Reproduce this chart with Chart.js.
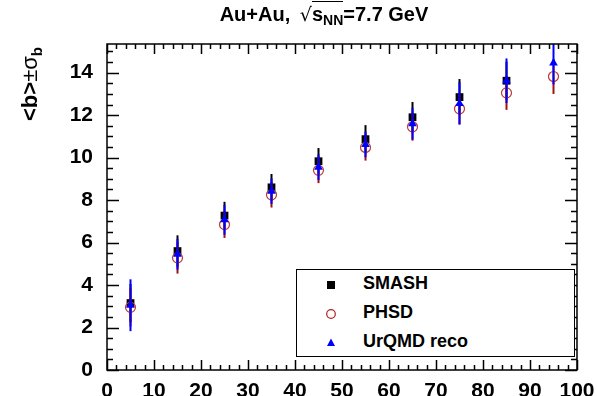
<!DOCTYPE html>
<html>
<head>
<meta charset="utf-8">
<script src="https://cdn.jsdelivr.net/npm/chart.js@4"></script>
<style>
  html, body { margin: 0; padding: 0; background: #fff; }
  #wrap { position: relative; width: 597px; height: 396px; font-family: "Liberation Sans", Arial, sans-serif; }
  #title { position: absolute; left: 0; width: 648px; top: 3px; text-align: center; font-weight: bold; font-size: 20px; color: #000; }
  #title .rad { font-weight: normal; font-family: "DejaVu Sans", sans-serif; font-size: 19px; margin-left: 4px; }
  #title .over { border-top: 1.5px solid #000; padding-top: 1px; }
  #title sub { font-size: 14px; vertical-align: -4px; }
  #ytitle { position: absolute; left: 31px; top: 84px; transform: translate(-50%, -50%) rotate(-90deg); white-space: nowrap; font-weight: bold; font-size: 22px; }
  #ytitle .sym { font-weight: normal; }
  #ytitle sub { font-size: 15px; vertical-align: -5px; }
  #legend { position: absolute; left: 296px; top: 269px; width: 277px; height: 86px; border: 1.5px solid #000; background: #fff; }
  .row { position: absolute; left: 0; height: 24px; width: 100%; }
  .row svg { position: absolute; left: 27px; top: 5px; }
  .row span { position: absolute; left: 66px; top: 0px; font-weight: bold; font-size: 18px; }
</style>
</head>
<body>
<div id="wrap">
  <canvas id="chart" width="597" height="396"></canvas>
  <div id="title">Au+Au, <span class="rad">√</span><span class="over">s<sub>NN</sub></span>=7.7 GeV</div>
  <div id="ytitle">&lt;b&gt;<span class="sym">±σ</span><sub>b</sub></div>
  <div id="legend">
    <div class="row" style="top:3px"><svg width="14" height="14"><rect x="3" y="3" width="8" height="8" fill="#000"/></svg><span>SMASH</span></div>
    <div class="row" style="top:32px"><svg width="14" height="14"><circle cx="7" cy="7" r="4.3" fill="none" stroke="#b22222" stroke-width="1.2"/></svg><span>PHSD</span></div>
    <div class="row" style="top:61px"><svg width="14" height="14"><polygon points="7,2.5 11,10 3,10" fill="#0000ff"/></svg><span>UrQMD reco</span></div>
  </div>
</div>
<script>
// --- donnees ---
const centrality = [5, 15, 25, 35, 45, 55, 65, 75, 85, 95];

const smashMean = [3.15, 5.6, 7.27, 8.6, 9.83, 10.87, 11.9, 12.85, 13.62, null];
const smashErr  = [0.9, 0.74, 0.65, 0.63, 0.62, 0.66, 0.72, 0.85, 0.9, null];

const phsdMean = [2.95, 5.28, 6.85, 8.25, 9.4, 10.48, 11.45, 12.3, 13.05, 13.82];
const phsdErr  = [0.9, 0.74, 0.63, 0.6, 0.6, 0.62, 0.65, 0.72, 0.8, 0.82];

const urqmdMean = [3.05, 5.45, 7.07, 8.42, 9.55, 10.62, 11.6, 12.55, 13.62, 14.45];
const urqmdErr  = [1.22, 0.72, 0.7, 0.6, 0.6, 0.6, 0.75, 1.0, 1.05, 1.0];

const xTicks = { min: 0, max: 100, major: 10, minor: 2 };
const yTicks = { min: 0, max: 15.35, major: 2, minor: 0.5 };

const toPoints = (means) => centrality.map((x, i) => ({ x, y: means[i] }));

// barres d'erreur dessinees juste avant les marqueurs de chaque serie
const errorBars = {
  id: 'errorBars',
  beforeDatasetDraw(chart, args) {
    const ds = chart.data.datasets[args.index];
    if (!ds.errors) return;
    const { ctx, chartArea: a } = chart;
    const xs = chart.scales.x, ys = chart.scales.y;
    ctx.save();
    ctx.beginPath();
    ctx.rect(a.left, a.top, a.right - a.left, a.bottom - a.top);
    ctx.clip();
    ctx.strokeStyle = ds.barColor;
    ctx.lineWidth = 2;
    ds.data.forEach((p, i) => {
      if (p.y == null) return;
      const e = ds.errors[i];
      const px = xs.getPixelForValue(p.x);
      ctx.beginPath();
      ctx.moveTo(px, ys.getPixelForValue(p.y - e));
      ctx.lineTo(px, ys.getPixelForValue(p.y + e));
      ctx.stroke();
    });
    ctx.restore();
  }
};

// cadre style ROOT avec graduations vers l'interieur sur les 4 cotes
const rootFrame = {
  id: 'rootFrame',
  afterDatasetsDraw(chart) {
    const { ctx, chartArea: a } = chart;
    const xs = chart.scales.x, ys = chart.scales.y;
    ctx.save();
    ctx.strokeStyle = '#000';
    ctx.lineWidth = 1.5;
    ctx.strokeRect(a.left, a.top, a.right - a.left, a.bottom - a.top);
    ctx.beginPath();
    for (let v = xTicks.min; v <= xTicks.max + 1e-9; v += xTicks.minor) {
      const isMajor = Math.abs(v / xTicks.major - Math.round(v / xTicks.major)) < 1e-6;
      const len = isMajor ? 10 : 5;
      const px = Math.round(xs.getPixelForValue(v)) + 0.5;
      ctx.moveTo(px, a.bottom); ctx.lineTo(px, a.bottom - len);
      ctx.moveTo(px, a.top); ctx.lineTo(px, a.top + len);
    }
    for (let v = yTicks.min; v <= yTicks.max + 1e-9; v += yTicks.minor) {
      const isMajor = Math.abs(v / yTicks.major - Math.round(v / yTicks.major)) < 1e-6;
      const len = isMajor ? 12 : 6;
      const py = Math.round(ys.getPixelForValue(v)) + 0.5;
      ctx.moveTo(a.left, py); ctx.lineTo(a.left + len, py);
      ctx.moveTo(a.right, py); ctx.lineTo(a.right - len, py);
    }
    ctx.stroke();
    ctx.restore();
  }
};

const tickFont = { family: '"Liberation Sans", Arial, sans-serif', size: 21, weight: 'bold' };

new Chart(document.getElementById('chart'), {
  type: 'scatter',
  data: {
    datasets: [
      {
        label: 'SMASH', data: toPoints(smashMean), errors: smashErr, barColor: '#000',
        pointStyle: 'rect', pointRadius: 5.5, backgroundColor: '#000', borderColor: '#000', borderWidth: 0, order: 3
      },
      {
        label: 'PHSD', data: toPoints(phsdMean), errors: phsdErr, barColor: '#a01010',
        pointStyle: 'circle', pointRadius: 5, backgroundColor: 'rgba(0,0,0,0)', borderColor: '#b83a3a', borderWidth: 1.2, order: 2
      },
      {
        label: 'UrQMD reco', data: toPoints(urqmdMean), errors: urqmdErr, barColor: '#0000ff',
        pointStyle: 'triangle', pointRadius: 5, backgroundColor: '#0000ff', borderColor: '#0000ff', borderWidth: 0, order: 1
      }
    ]
  },
  options: {
    responsive: false,
    animation: false,
    devicePixelRatio: 1,
    layout: { padding: { left: 0, right: 20, top: 44, bottom: 0 } },
    plugins: { legend: { display: false }, tooltip: { enabled: false }, title: { display: false } },
    scales: {
      x: {
        type: 'linear', min: xTicks.min, max: xTicks.max,
        grid: { display: false }, border: { display: false },
        ticks: { stepSize: xTicks.major, color: '#000', font: tickFont, padding: 1, maxRotation: 0 },
        afterFit: (s) => { s.height = 26; }
      },
      y: {
        type: 'linear', min: yTicks.min, max: yTicks.max,
        grid: { display: false }, border: { display: false },
        ticks: { stepSize: yTicks.major, includeBounds: false, color: '#000', font: tickFont, padding: 6 },
        afterFit: (s) => { s.width = 107; }
      }
    }
  },
  plugins: [errorBars, rootFrame]
});
</script>
</body>
</html>
